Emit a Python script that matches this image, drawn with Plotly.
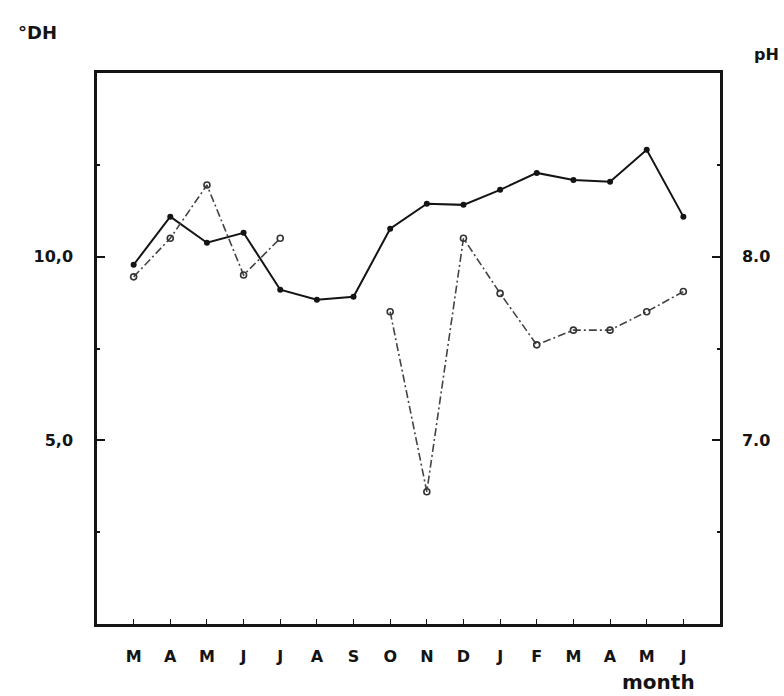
import plotly.graph_objects as go

# Monthly water measurements: total hardness (°DH) and pH
months = ["M", "A", "M", "J", "J", "A", "S", "O", "N", "D", "J", "F", "M", "A", "M", "J"]
hardness_dh = [9.78, 11.09, 10.38, 10.65, 9.10, 8.83, 8.91, 10.76, 11.44, 11.41,
               11.82, 12.28, 12.09, 12.04, 12.91, 11.09]
ph_values = [7.89, 8.10, 8.39, 7.90, 8.10, None, None, 7.70, 6.72, 8.10,
             7.80, 7.52, 7.60, 7.60, 7.70, 7.81]

dh_ticks = [5, 10]
dh_ticklabels = ["5,0", "10,0"]
ph_ticks = [7, 8]
ph_ticklabels = ["7.0", "8.0"]

x = list(range(len(months)))
ink = "#141414"
font_family = "DejaVu Sans, Liberation Sans, sans-serif"

fig = go.Figure()

fig.add_trace(go.Scatter(
    x=x, y=hardness_dh, mode="lines+markers",
    line=dict(color=ink, width=2),
    marker=dict(symbol="circle", size=6, color=ink),
    yaxis="y", showlegend=False,
))

fig.add_trace(go.Scatter(
    x=x, y=ph_values, mode="lines+markers", connectgaps=False,
    line=dict(color="#444444", width=1.6, dash="8px,3px,2px,3px"),
    marker=dict(symbol="circle-open", size=6, color="#333333", line=dict(width=1.6)),
    yaxis="y2", showlegend=False,
))

tickfont = dict(family=font_family, size=16, color=ink, weight="bold")

fig.update_layout(
    width=784, height=696,
    margin=dict(l=97, r=64, t=73, b=72),
    paper_bgcolor="white", plot_bgcolor="white",
    xaxis=dict(
        range=[-1, 16], tickmode="array", tickvals=x, ticktext=months,
        ticks="inside", ticklen=5, tickwidth=1.2, tickcolor=ink,
        showline=True, linecolor=ink, linewidth=2.5, mirror=True,
        showgrid=False, zeroline=False,
        tickfont=dict(family=font_family, size=16, color=ink, weight="bold"),
        ticklabelstandoff=16,
    ),
    yaxis=dict(
        range=[0, 15], tickmode="array", tickvals=dh_ticks, ticktext=dh_ticklabels,
        ticks="inside", ticklen=8, tickwidth=1.5, tickcolor=ink,
        minor=dict(tickvals=[2.5, 7.5, 12.5], ticks="inside", ticklen=3,
                   tickwidth=1.5, tickcolor=ink, showgrid=False),
        showline=True, linecolor=ink, linewidth=2.5,
        showgrid=False, zeroline=False,
        tickfont=tickfont, ticklabelstandoff=18,
    ),
    yaxis2=dict(
        range=[6, 9], overlaying="y", side="right",
        tickmode="array", tickvals=ph_ticks, ticktext=ph_ticklabels,
        ticks="inside", ticklen=8, tickwidth=1.5, tickcolor=ink,
        minor=dict(tickvals=[6.5, 7.5, 8.5], ticks="inside", ticklen=3,
                   tickwidth=1.5, tickcolor=ink, showgrid=False),
        showline=True, linecolor=ink, linewidth=2.5,
        showgrid=False, zeroline=False,
        tickfont=tickfont, ticklabelstandoff=16,
    ),
    annotations=[
        dict(text="°DH", xref="paper", yref="paper", x=-0.096, y=1.074,
             showarrow=False, xanchor="center", yanchor="middle",
             font=dict(family=font_family, size=18, color=ink, weight="bold")),
        dict(text="pH", xref="paper", yref="paper", x=1.075, y=1.033,
             showarrow=False, xanchor="center", yanchor="middle",
             font=dict(family=font_family, size=16, color=ink, weight="bold")),
        dict(text="month", xref="paper", yref="paper", x=0.902, y=-0.105,
             showarrow=False, xanchor="center", yanchor="middle",
             font=dict(family=font_family, size=20, color=ink, weight="bold")),
    ],
)

fig.write_html("out.html")
